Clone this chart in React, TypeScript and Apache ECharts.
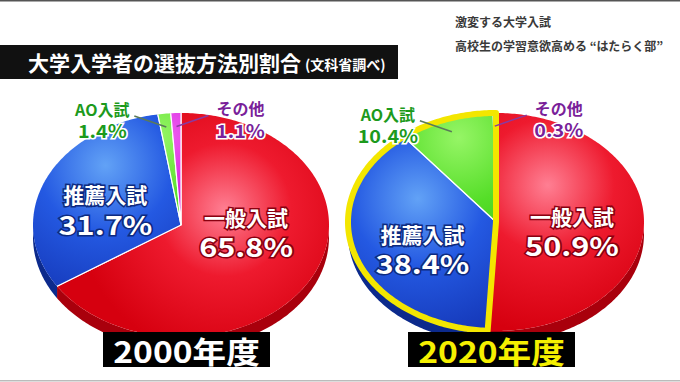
import React, { useEffect, useRef } from 'react';
import * as echarts from 'echarts';

const categories = ['一般入試', '推薦入試', 'AO入試', 'その他'];
const values2000 = [65.8, 31.7, 1.4, 1.1];
const values2020 = [50.9, 38.4, 10.4, 0.3];
const yearLabels = ['2000年度', '2020年度'];
const titleText = '大学入学者の選抜方法別割合';
const sourceText = '(文科省調べ)';
const captionLines = ['激変する大学入試', '高校生の学習意欲高める “はたらく部”'];

const FONT = '"Noto Sans CJK JP", "Noto Sans", sans-serif';

const topColors = [
  ['#ff7f93', '#ee1a2e', '#d6000f'],
  ['#62a2f6', '#2459e2', '#1436b6'],
  ['#96f566', '#55de28', '#34ba12'],
  ['#f060f2', '#d01ad8', '#a010b0'],
];
const sideColors = ['#a9000c', '#0c2a8c', '#2a8c10', '#80108a'];
const extColors = ['#ffffff', '#ffffff', '#1c9a1c', '#7a1f9a'];
const textStrokes = ['#8a0010', '#0d2a80', '#ffffff', '#ffffff'];
const leaderColors = ['#000', '#000', '#5a7a5a', '#8a3aa0'];

type Geo = { cx: number; cy: number; rx: number; ry: number; depth: number; shift: number[][] };

const pies: Geo[] = [
  { cx: 181, cy: 225, rx: 148, ry: 112, depth: 12, shift: [[0, -21], [-8, 6], [0, 0], [0, 0]] },
  { cx: 496, cy: 222, rx: 148, ry: 109, depth: 12, shift: [[2, 6], [-3, 9], [0, 0], [0, 0]] },
];

const pt = (g: Geo, pct: number, r = 1) => {
  const a = (pct / 100) * Math.PI * 2;
  return [g.cx + g.rx * r * Math.sin(a), g.cy - g.ry * r * Math.cos(a)];
};
const arc = (g: Geo, s: number, e: number, r = 1, dy = 0) => {
  const n = Math.max(2, Math.ceil((e - s) / 0.25));
  const out: number[][] = [];
  for (let k = 0; k <= n; k++) {
    const p = pt(g, s + ((e - s) * k) / n, r);
    out.push([p[0], p[1] + dy]);
  }
  return out;
};

const buildData = (values: number[]) => {
  let acc = 0;
  return values.map((v, i) => {
    const d = { name: categories[i], value: [v, acc] };
    acc += v;
    return d;
  });
};

function sliceSeries(g: Geo, values: number[], z: number) {
  return {
    type: 'custom',
    coordinateSystem: 'none',
    z,
    silent: true,
    data: buildData(values),
    renderItem: (params: any, api: any) => {
      const i = params.dataIndex;
      const v = api.value(0);
      const s = api.value(1);
      const e = s + v;
      const children: any[] = [];
      const a = Math.max(s, 25);
      const b = Math.min(e, 75);
      if (b > a) {
        const upper = arc(g, a, b);
        const lower = arc(g, a, b, 1, g.depth).reverse();
        children.push({
          type: 'polygon',
          shape: { points: upper.concat(lower) },
          style: {
            fill: {
              type: 'linear', x: 0, y: g.cy, x2: 0, y2: g.cy + g.ry + g.depth, global: true,
              colorStops: [{ offset: 0, color: sideColors[i] }, { offset: 1, color: sideColors[i] }],
            },
          },
        });
      }
      const hl = pt(g, s + v / 2, 0.45);
      const c = topColors[i];
      children.push({
        type: 'polygon',
        shape: { points: [[g.cx, g.cy]].concat(arc(g, s, e)) },
        style: {
          fill: {
            type: 'radial', x: hl[0] - g.rx * 0.1, y: hl[1] - g.ry * 0.35, r: g.rx * 1.0, global: true,
            colorStops: [
              { offset: 0, color: c[0] },
              { offset: 0.45, color: c[1] },
              { offset: 1, color: c[2] },
            ],
          },
        },
      });
      const p1 = pt(g, s);
      const p2 = pt(g, e);
      children.push({
        type: 'polyline',
        shape: { points: [p1, [g.cx, g.cy], p2] },
        style: { stroke: '#ffffff', lineWidth: 1.2, fill: null },
      });
      return { type: 'group', children };
    },
  };
}

function highlightSeries(g: Geo, values: number[], z: number) {
  const total = values.reduce((t, v) => t + v, 0);
  return {
    type: 'custom',
    coordinateSystem: 'none',
    z,
    silent: true,
    data: [[values[0], total]],
    renderItem: (params: any, api: any) => {
      const s = api.value(0);
      const e = api.value(1);
      return {
        type: 'polygon',
        shape: { points: [[g.cx, g.cy]].concat(arc(g, s, e)) },
        style: { fill: null, stroke: '#f3e600', lineWidth: 6, lineJoin: 'round' },
      };
    },
  };
}

function labelSeries(g: Geo, values: number[], z: number) {
  return {
    type: 'custom',
    coordinateSystem: 'none',
    z,
    silent: true,
    data: buildData(values),
    renderItem: (params: any, api: any) => {
      const i = params.dataIndex;
      const v = api.value(0);
      const s = api.value(1);
      const mid = s + v / 2;
      const pctText = v.toFixed(1) + '%';
      if (v >= 15) {
        const p = pt(g, mid, 0.5);
        const x = p[0] + g.shift[i][0];
        const y = p[1] + g.shift[i][1];
        return {
          type: 'group',
          children: [
            {
              type: 'text', x, y: y - 14,
              style: {
                text: categories[i], fill: '#ffffff', stroke: textStrokes[i], lineWidth: 3,
                fontSize: 21, fontWeight: 'bold', fontFamily: FONT, align: 'center', verticalAlign: 'middle',
              },
            },
            {
              type: 'text', x, y: y + 15, scaleX: 1.18,
              style: {
                text: pctText, fill: '#ffffff', stroke: textStrokes[i], lineWidth: 3,
                fontSize: 26, fontWeight: 'bold', fontFamily: FONT, align: 'center', verticalAlign: 'middle',
              },
            },
          ],
        };
      }
      const dir = i === 2 ? -1 : 1;
      const anchor = pt(g, mid, 0.88);
      const lx = anchor[0] + dir * 64;
      const ly = anchor[1] - 18;
      return {
        type: 'group',
        children: [
          {
            type: 'polyline',
            shape: { points: [[lx - dir * 32, ly + 7], anchor] },
            style: { stroke: leaderColors[i], lineWidth: 1.5, fill: null },
          },
          {
            type: 'text', x: lx, y: ly,
            style: {
              text: categories[i], fill: extColors[i], stroke: textStrokes[i], lineWidth: 3,
              fontSize: 16, fontWeight: 'bold', fontFamily: FONT, align: 'center', verticalAlign: 'middle',
            },
          },
          {
            type: 'text', x: lx, y: ly + 21, scaleX: 1.1,
            style: {
              text: pctText, fill: extColors[i], stroke: textStrokes[i], lineWidth: 3,
              fontSize: 18, fontWeight: 'bold', fontFamily: FONT, align: 'center', verticalAlign: 'middle',
            },
          },
        ],
      };
    },
  };
}

export default function App() {
  const ref = useRef<HTMLDivElement>(null);
  useEffect(() => {
    document.body.style.margin = '0';
    if (!ref.current) return;
    const chart = echarts.init(ref.current, null, { renderer: 'svg' });
    const yearBoxes = [
      { x: 103, color: '#ffffff' },
      { x: 408, color: '#f5f000' },
    ];
    chart.setOption({
      animation: false,
      backgroundColor: '#ffffff',
      graphic: [
        { type: 'rect', shape: { x: 0, y: 0, width: 680, height: 1.5 }, style: { fill: '#555' }, z: 50 },
        { type: 'rect', shape: { x: 0, y: 380, width: 680, height: 1.5 }, style: { fill: '#bbb' }, z: 50 },
        { type: 'rect', shape: { x: 0, y: 45, width: 398, height: 34 }, style: { fill: '#111111' }, z: 50 },
        {
          type: 'text', x: 28, y: 62, z: 51,
          style: { text: titleText, fill: '#ffffff', fontSize: 21, fontWeight: 'bold', fontFamily: FONT, verticalAlign: 'middle' },
        },
        {
          type: 'text', x: 305, y: 64, z: 51,
          style: { text: sourceText, fill: '#ffffff', fontSize: 14, fontWeight: 'bold', fontFamily: FONT, verticalAlign: 'middle' },
        },
        {
          type: 'text', x: 455, y: 21, z: 51,
          style: { text: captionLines[0], fill: '#3a3a3a', fontSize: 12, fontWeight: 'bold', fontFamily: FONT, verticalAlign: 'middle' },
        },
        {
          type: 'text', x: 455, y: 45, z: 51,
          style: { text: captionLines[1], fill: '#3a3a3a', fontSize: 12, fontWeight: 'bold', fontFamily: FONT, verticalAlign: 'middle' },
        },
        ...yearBoxes.flatMap((b, k) => [
          { type: 'rect', shape: { x: b.x, y: 332, width: 167, height: 35 }, style: { fill: '#000000' }, z: 60 },
          {
            type: 'text', x: b.x + 83.5, y: 350, scaleX: 1.12, z: 61,
            style: { text: yearLabels[k], fill: b.color, fontSize: 30, fontWeight: 'bold', fontFamily: FONT, align: 'center', verticalAlign: 'middle' },
          },
        ]),
      ],
      series: [
        sliceSeries(pies[0], values2000, 2),
        sliceSeries(pies[1], values2020, 2),
        highlightSeries(pies[1], values2020, 3),
        labelSeries(pies[0], values2000, 4),
        labelSeries(pies[1], values2020, 4),
      ],
    });
    return () => chart.dispose();
  }, []);
  return <div ref={ref} style={{ width: 680, height: 382 }} />;
}
